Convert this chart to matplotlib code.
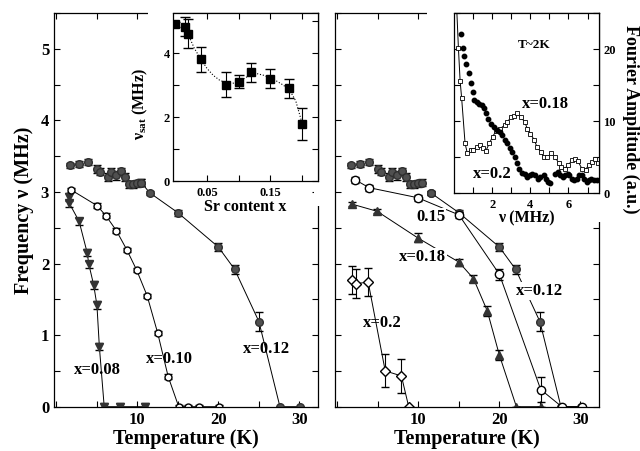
import numpy as np
import matplotlib
matplotlib.use("Agg")
import matplotlib.pyplot as plt
from matplotlib.patches import Rectangle
from matplotlib.ticker import MultipleLocator, FixedLocator

plt.rcParams["font.family"] = ["Liberation Serif", "DejaVu Serif"]
plt.rcParams["font.weight"] = "bold"
plt.rcParams["mathtext.fontset"] = "custom"
plt.rcParams["mathtext.rm"] = "Liberation Serif:bold"
plt.rcParams["mathtext.it"] = "Liberation Serif:bold"
plt.rcParams["axes.linewidth"] = 0.9

# ---- main panels: nu(T) for different Sr content ----
T_008 = [1.6, 1.6, 2.8, 3.8, 4.0, 4.6, 5.0, 5.3, 5.9, 7.8, 10.9]
F_008 = [2.93, 2.84, 2.59, 2.15, 1.99, 1.70, 1.42, 0.84, 0.0, 0.0, 0.0]

T_010 = [1.8, 5.0, 6.1, 7.4, 8.7, 9.9, 11.2, 12.5, 13.8, 15.1, 16.3, 17.6, 20.1]
F_010 = [3.03, 2.81, 2.67, 2.46, 2.19, 1.91, 1.55, 1.03, 0.42, 0.0, 0.0, 0.0, 0.0]

T_012 = [1.7, 2.8, 3.9, 5.0, 5.4, 6.4, 6.8, 7.4, 8.0, 8.5, 8.9, 9.5, 9.9, 10.5,
         11.5, 15.0, 20.0, 22.0, 25.0, 27.6, 30.1]
F_012 = [3.37, 3.39, 3.42, 3.32, 3.28, 3.21, 3.28, 3.23, 3.29, 3.21, 3.11, 3.11,
         3.12, 3.13, 2.99, 2.71, 2.23, 1.92, 1.19, 0.0, 0.0]
E_012 = [0.04, 0.04, 0.04, 0.05, 0.05, 0.05, 0.05, 0.06, 0.05, 0.05, 0.05, 0.05,
         0.05, 0.05, 0.03, 0.04, 0.06, 0.06, 0.13, 0.0, 0.0]

T_015 = [2.2, 3.9, 9.9, 15.0, 20.0, 25.1, 27.7, 30.2]
F_015 = [3.17, 3.06, 2.92, 2.68, 1.85, 0.24, 0.0, 0.0]
E_015 = [0.04, 0.04, 0.04, 0.04, 0.08, 0.18, 0.0, 0.0]

T_018 = [1.8, 4.9, 9.9, 15.0, 16.8, 18.5, 20.0, 22.1, 25.1]
F_018 = [2.83, 2.73, 2.36, 2.02, 1.79, 1.34, 0.72, 0.0, 0.0]
E_018 = [0.03, 0.03, 0.06, 0.05, 0.05, 0.07, 0.07, 0.0, 0.0]

T_020 = [1.8, 2.3, 3.8, 5.9, 7.9, 8.8]
F_020 = [1.77, 1.72, 1.74, 0.50, 0.43, 0.0]
E_020 = [0.2, 0.2, 0.2, 0.23, 0.24, 0.0]

# ---- inset 1: saturation frequency vs Sr content ----
sr_x = [0.0, 0.015, 0.02, 0.04, 0.08, 0.10, 0.12, 0.15, 0.18, 0.20]
nu_sat = [4.9, 4.82, 4.6, 3.8, 3.01, 3.1, 3.4, 3.2, 2.9, 1.77]
nu_err = [0.08, 0.3, 0.45, 0.4, 0.4, 0.2, 0.3, 0.3, 0.3, 0.5]
fit_x = [0.02, 0.03, 0.04, 0.05, 0.06, 0.07, 0.08, 0.09, 0.10, 0.11, 0.12,
         0.13, 0.14, 0.15, 0.16, 0.17, 0.18, 0.19, 0.20]
fit_y = [4.6, 4.15, 3.82, 3.52, 3.3, 3.15, 3.07, 3.05, 3.1, 3.22, 3.33,
         3.35, 3.3, 3.22, 3.12, 3.0, 2.85, 2.5, 1.8]

# ---- inset 2: Fourier spectra at T~2K ----
nu_018 = [0.12, 0.23, 0.32, 0.4, 0.58, 0.7, 0.87, 1.0, 1.2, 1.35, 1.5, 1.68, 1.85,
          2.02, 2.2, 2.4, 2.65, 2.8, 3.0, 3.13, 3.3, 3.5, 3.7, 3.85, 4.0, 4.2,
          4.35, 4.55, 4.7, 4.9, 5.1, 5.3, 5.5, 5.6, 5.8, 6.0, 6.2, 6.35, 6.5,
          6.7, 6.9, 7.05, 7.25, 7.4, 7.55]
A_018 = [27.0, 20.2, 15.6, 13.2, 6.9, 5.5, 6.0, 6.0, 6.4, 6.6, 6.2, 5.9, 6.9,
         7.8, 8.6, 8.9, 9.4, 9.9, 10.55, 10.65, 11.1, 10.55, 9.9, 8.9, 8.25, 7.4,
         6.4, 5.7, 5.0, 5.0, 5.5, 5.0, 4.1, 3.6, 3.4, 3.9, 4.6, 4.7, 4.4,
         3.4, 3.2, 3.9, 4.3, 4.7, 4.1]
nu_020 = [0.35, 0.45, 0.55, 0.65, 0.78, 0.87, 0.97, 1.05, 1.2, 1.32, 1.45, 1.55,
          1.68, 1.8, 1.95, 2.12, 2.27, 2.4, 2.5, 2.65, 2.8, 2.92, 3.05, 3.2, 3.28,
          3.4, 3.55, 3.7, 3.85, 4.0, 4.1, 4.25, 4.4, 4.5, 4.7, 4.8, 4.95, 5.05,
          5.3, 5.45, 5.55, 5.7, 5.8, 5.95, 6.05, 6.2, 6.3, 6.45, 6.55, 6.7, 6.8,
          6.95, 7.1, 7.2, 7.35, 7.5]
A_020 = [22.1, 20.2, 19.0, 17.9, 16.6, 15.3, 14.0, 12.95, 12.6, 12.4, 12.2, 11.85,
         11.1, 10.3, 9.6, 9.2, 8.7, 8.5, 8.0, 7.3, 6.9, 6.2, 5.7, 5.0, 4.1,
         3.4, 2.8, 2.7, 2.25, 2.45, 2.7, 2.45, 2.0, 2.25, 2.45, 2.0, 1.55, 1.35,
         2.7, 2.95, 2.45, 2.25, 2.45, 2.7, 2.45, 2.0, 1.8, 2.0, 2.45, 2.45, 2.0,
         1.55, 1.8, 2.0, 1.8, 1.8]

W, H = 640, 451
fig = plt.figure(figsize=(W / 100, H / 100), dpi=100)


def fbox(x0, y0, x1, y1):
    # pixel box (top-left origin) -> figure fraction rect
    return [x0 / W, 1 - y1 / H, (x1 - x0) / W, (y1 - y0) / H]


def style_main(ax):
    ax.set_xlim(-0.3, 32.3)
    ax.set_ylim(0, 5.5)
    ax.xaxis.set_major_locator(MultipleLocator(10))
    ax.xaxis.set_minor_locator(MultipleLocator(5))
    ax.yaxis.set_major_locator(MultipleLocator(1))
    ax.yaxis.set_minor_locator(MultipleLocator(0.5))
    ax.tick_params(which="both", direction="in", top=True, right=True, width=0.8)
    ax.tick_params(which="major", length=4, labelsize=12)
    ax.tick_params(which="minor", length=4)
    ax.set_xticks([10, 20, 30])
    ax.set_xlabel("Temperature (K)", fontsize=14.5, fontweight="bold", labelpad=1)


lw = 0.7
eb = dict(ecolor="black", elinewidth=0.8, capsize=2.8)
gray = dict(mfc="#505050", mec="#303030", **eb)

# left panel
ax1 = fig.add_axes(fbox(54, 13, 318, 406.7))
style_main(ax1)
ax1.errorbar(T_008, F_008, yerr=0.05, fmt="-v", ms=6, mfc="#333333", mec="#333333",
             color="black", lw=lw, **eb)
ax1.errorbar(T_010, F_010, yerr=0.03, fmt="-o", ms=5, mfc="white", mec="black",
             color="black", lw=lw, **eb)
ax1.errorbar(T_012[:14], F_012[:14], yerr=E_012[:14], fmt="o", ms=5.5, **gray)
ax1.errorbar(T_012[13:], F_012[13:], yerr=E_012[13:], fmt="-o", ms=5.5,
             color="black", lw=lw, **gray)
ax1.set_ylabel("Frequency ν (MHz)", fontsize=14.5, fontweight="bold", labelpad=5)
lab = dict(fontsize=12, fontweight="bold", ha="center", va="center")
ax1.text(5.1, 0.51, "x=0.08", **lab)
ax1.text(13.9, 0.66, "x=0.10", **lab)
ax1.text(25.9, 0.80, "x=0.12", **lab)

# right panel
ax2 = fig.add_axes(fbox(335, 13, 599, 406.7))
style_main(ax2)
ax2.tick_params(labelleft=False)
ax2.errorbar(T_012[:15], F_012[:15], yerr=E_012[:15], fmt="o", ms=5.5, **gray)
ax2.errorbar(T_012[14:], F_012[14:], yerr=E_012[14:], fmt="-o", ms=5.5,
             color="black", lw=lw, **gray)
ax2.errorbar(T_015, F_015, yerr=E_015, fmt="-o", ms=6, mfc="white", mec="black",
             color="black", lw=lw, **eb)
ax2.errorbar(T_018, F_018, yerr=E_018, fmt="-^", ms=6, mfc="#333333", mec="#333333",
             color="black", lw=lw, **eb)
ax2.errorbar(T_020, F_020, yerr=E_020, fmt="-D", ms=5.5, mfc="white", mec="black",
             color="black", lw=lw, **eb)
wb = dict(boxstyle="square,pad=0.05", fc="white", ec="none")
ax2.text(11.5, 2.65, "0.15", bbox=wb, **lab)
ax2.text(10.5, 2.09, "x=0.18", bbox=wb, **lab)
ax2.text(5.6, 1.17, "x=0.2", **lab)
ax2.text(25.0, 1.62, "x=0.12", bbox=wb, **lab)

# inset 1
ia = fig.add_axes(fbox(173, 13, 318, 181))
ia.set_xlim(-0.0035, 0.225)
ia.set_ylim(0, 5.25)
ia.errorbar(sr_x, nu_sat, yerr=nu_err, fmt="s", ms=5.5, mfc="black", mec="black",
            ecolor="black", elinewidth=0.8, capsize=3.5)
ia.plot(fit_x, fit_y, ":", color="black", lw=0.8)
ia.xaxis.set_major_locator(FixedLocator([0.05, 0.15]))
ia.xaxis.set_minor_locator(FixedLocator([0.10, 0.20]))
ia.yaxis.set_major_locator(MultipleLocator(2))
ia.yaxis.set_minor_locator(MultipleLocator(1))
ia.tick_params(which="both", direction="in", top=True, right=True, width=0.8, length=4)
ia.tick_params(axis="x", labelsize=9, pad=4)
ia.tick_params(axis="y", labelsize=9, pad=2)
ia.set_xlabel("Sr content x", fontsize=11.5, fontweight="bold", labelpad=0)
ia.set_ylabel("ν$_{\\rm sat}$ (MHz)", fontsize=11.5, fontweight="bold")
ia.yaxis.set_label_coords(-0.16, 0.46)
for r in (fbox(148, 9, 174, 17), fbox(314, 180, 322, 206)):
    ia.add_patch(Rectangle((r[0], r[1]), r[2], r[3], transform=fig.transFigure,
                           fc="white", ec="none", clip_on=False, zorder=0.5))

# inset 2
ib = fig.add_axes(fbox(454, 13, 599, 193))
ib.set_xlim(0, 7.6)
ib.set_ylim(0, 25)
ib.plot(nu_018, A_018, "-s", ms=2.8, mfc="white", mec="black", mew=0.6,
        color="black", lw=0.7)
ib.plot(nu_020, A_020, "o", ms=3.2, color="black")
ib.xaxis.set_major_locator(FixedLocator([2, 4, 6]))
ib.xaxis.set_minor_locator(FixedLocator([1, 3, 5, 7]))
ib.yaxis.set_major_locator(MultipleLocator(10))
ib.yaxis.set_minor_locator(MultipleLocator(5))
ib.tick_params(which="both", direction="in", top=True, right=True, left=True,
               width=0.8, length=4)
ib.tick_params(axis="x", labelsize=9, pad=4)
ib.tick_params(axis="y", labelsize=9, pad=3, labelleft=False, labelright=True)
ib.set_xlabel("ν (MHz)", fontsize=11.5, fontweight="bold", labelpad=0)
ib.yaxis.set_label_position("right")
ib.set_ylabel("Fourier Amplitude (a.u.)", fontsize=13, fontweight="bold",
              rotation=270, va="center")
ib.yaxis.set_label_coords(1.22, 0.41)
ib.text(4.2, 20.5, "T~2K", fontsize=9.5, fontweight="bold", ha="center", va="center")
ib.text(4.8, 12.4, "x=0.18", fontsize=12, fontweight="bold", ha="center", va="center")
ib.text(2.0, 2.7, "x=0.2", fontsize=12, fontweight="bold", ha="center", va="center")
for r in (fbox(427, 9, 455, 17), fbox(595, 192, 603, 222)):
    ib.add_patch(Rectangle((r[0], r[1]), r[2], r[3], transform=fig.transFigure,
                           fc="white", ec="none", clip_on=False, zorder=0.5))

fig.savefig("out.png", dpi=100)
